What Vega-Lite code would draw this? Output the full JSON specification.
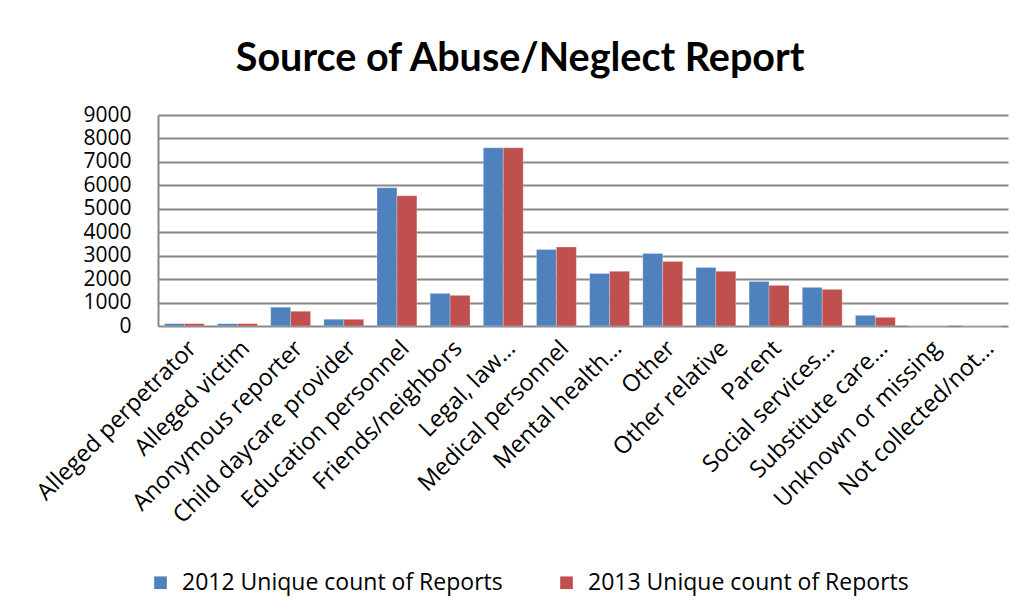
{
  "$schema": "https://vega.github.io/schema/vega-lite/v6.json",
  "width": 850,
  "height": 211,
  "padding": {"left": 32, "top": 38, "right": 10, "bottom": 10},
  "background": "white",
  "title": {"text": "Source of Abuse/Neglect Report", "fontSize": 39.5, "font": "Lato", "fontWeight": "bold", "color": "#000000", "anchor": "middle", "frame": "bounds", "offset": 25},
  "data": {"values": [
    {"cat": "Alleged perpetrator", "series": "2012 Unique count of Reports", "v": 100},
    {"cat": "Alleged perpetrator", "series": "2013 Unique count of Reports", "v": 100},
    {"cat": "Alleged victim", "series": "2012 Unique count of Reports", "v": 100},
    {"cat": "Alleged victim", "series": "2013 Unique count of Reports", "v": 100},
    {"cat": "Anonymous reporter", "series": "2012 Unique count of Reports", "v": 800},
    {"cat": "Anonymous reporter", "series": "2013 Unique count of Reports", "v": 625},
    {"cat": "Child daycare provider", "series": "2012 Unique count of Reports", "v": 285},
    {"cat": "Child daycare provider", "series": "2013 Unique count of Reports", "v": 285},
    {"cat": "Education personnel", "series": "2012 Unique count of Reports", "v": 5895},
    {"cat": "Education personnel", "series": "2013 Unique count of Reports", "v": 5554},
    {"cat": "Friends/neighbors", "series": "2012 Unique count of Reports", "v": 1392},
    {"cat": "Friends/neighbors", "series": "2013 Unique count of Reports", "v": 1307},
    {"cat": "Legal, law…", "series": "2012 Unique count of Reports", "v": 7600},
    {"cat": "Legal, law…", "series": "2013 Unique count of Reports", "v": 7600},
    {"cat": "Medical personnel", "series": "2012 Unique count of Reports", "v": 3267},
    {"cat": "Medical personnel", "series": "2013 Unique count of Reports", "v": 3366},
    {"cat": "Mental health…", "series": "2012 Unique count of Reports", "v": 2244},
    {"cat": "Mental health…", "series": "2013 Unique count of Reports", "v": 2330},
    {"cat": "Other", "series": "2012 Unique count of Reports", "v": 3097},
    {"cat": "Other", "series": "2013 Unique count of Reports", "v": 2756},
    {"cat": "Other relative", "series": "2012 Unique count of Reports", "v": 2500},
    {"cat": "Other relative", "series": "2013 Unique count of Reports", "v": 2330},
    {"cat": "Parent", "series": "2012 Unique count of Reports", "v": 1903},
    {"cat": "Parent", "series": "2013 Unique count of Reports", "v": 1733},
    {"cat": "Social services…", "series": "2012 Unique count of Reports", "v": 1648},
    {"cat": "Social services…", "series": "2013 Unique count of Reports", "v": 1562},
    {"cat": "Substitute care…", "series": "2012 Unique count of Reports", "v": 455},
    {"cat": "Substitute care…", "series": "2013 Unique count of Reports", "v": 370},
    {"cat": "Unknown or missing", "series": "2012 Unique count of Reports", "v": 0},
    {"cat": "Unknown or missing", "series": "2013 Unique count of Reports", "v": 0},
    {"cat": "Not collected/not…", "series": "2012 Unique count of Reports", "v": 0},
    {"cat": "Not collected/not…", "series": "2013 Unique count of Reports", "v": 0}
  ]},
  "mark": {"type": "bar", "stroke": "#ffffff", "strokeOpacity": 0.5, "strokeWidth": 0.5},
  "encoding": {
    "x": {"field": "cat", "type": "nominal", "sort": null,
      "scale": {"paddingInner": 0.25, "paddingOuter": 0.12},
      "axis": {"title": null, "labelAngle": -45, "labelFontSize": 23.5, "labelFont": "Open Sans", "labelColor": "#000000", "ticks": false, "domain": false, "labelPadding": 10, "labelLimit": 300, "labelOverlap": false}},
    "xOffset": {"field": "series", "type": "nominal"},
    "y": {"field": "v", "type": "quantitative",
      "scale": {"domain": [0, 9000], "nice": false},
      "axis": {"title": null, "values": [0,1000,2000,3000,4000,5000,6000,7000,8000,9000], "format": "d", "labelFontSize": 21, "labelFont": "Open Sans", "labelColor": "#000000", "ticks": false, "domain": true, "domainColor": "#878787", "domainWidth": 2, "gridColor": "#878787", "gridWidth": 2, "labelPadding": 27, "labelOverlap": false}},
    "color": {"field": "series", "type": "nominal",
      "scale": {"range": ["#4F81BD", "#C0504D"]},
      "legend": {"title": null, "orient": "none", "legendX": -9, "legendY": 456, "direction": "horizontal", "symbolType": "square", "symbolSize": 160, "symbolStrokeWidth": 0, "labelFontSize": 23, "labelFont": "Open Sans", "labelColor": "#000000", "columnPadding": 52, "labelOffset": 10, "labelLimit": 400}}
  },
  "config": {"view": {"stroke": null}}
}
